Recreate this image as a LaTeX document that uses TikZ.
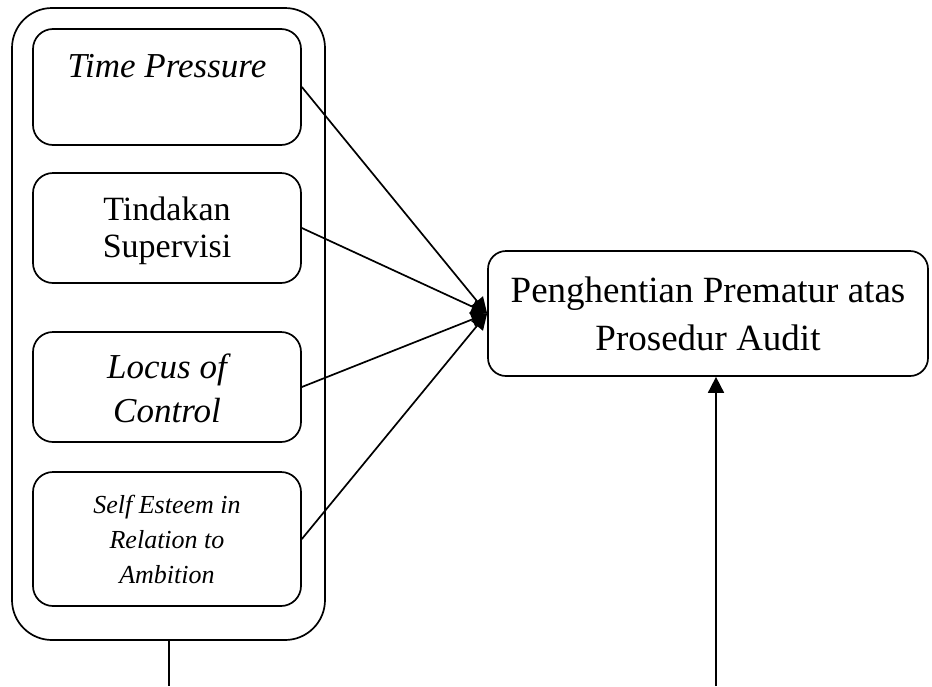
\documentclass[tikz,border=0pt]{standalone}
\usepackage{fontspec}
\setmainfont{Liberation Serif}
\usetikzlibrary{arrows.meta}
\begin{document}
\begin{tikzpicture}[x=1pt,y=-1pt,
  boxline/.style={draw=black,line width=1.7pt},
  inbox/.style={boxline,rounded corners=20pt},
  big/.style={font=\fontsize{34}{40}\selectfont,anchor=base,inner sep=0pt},
  bigit/.style={font=\fontsize{35}{40}\selectfont\itshape,anchor=base,inner sep=0pt},
  small/.style={font=\fontsize{26}{30}\selectfont\itshape,anchor=base,inner sep=0pt},
  head/.style={font=\fontsize{37}{44}\selectfont,anchor=base,inner sep=0pt},
  conn/.style={line width=1.7pt,-{Triangle[length=16pt,width=15pt]}}]
\useasboundingbox (0,0) rectangle (932,686);
% outer group
\draw[boxline,rounded corners=40pt] (12,8) rectangle (325,640);
\coordinate (outbot) at (169,640);
% inner boxes
\node[inbox,minimum width=268pt,minimum height=116pt,inner sep=0pt] (b1) at (167,87) {};
\node[inbox,minimum width=268pt,minimum height=110pt,inner sep=0pt] (b2) at (167,228) {};
\node[inbox,minimum width=268pt,minimum height=110pt,inner sep=0pt] (b3) at (167,387) {};
\node[inbox,minimum width=268pt,minimum height=134pt,inner sep=0pt] (b4) at (167,539) {};
\node[boxline,rounded corners=18pt,minimum width=440pt,minimum height=125pt,inner sep=0pt] (r) at (708,313.5) {};
% texts
\node[bigit] (t1) at (167,77) {Time Pressure};
\node[big] (t2a) at (167,220) {Tindakan};
\node[big] (t2b) at (167,257) {Supervisi};
\node[bigit] (t3a) at (167,378) {Locus of};
\node[bigit] (t3b) at (167,422) {Control};
\node[small] (t4a) at (167,513) {Self Esteem in};
\node[small] (t4b) at (167,548) {Relation to};
\node[small] (t4c) at (167,583) {Ambition};
\node[head] (h1) at (708,302) {Penghentian Prematur atas};
\node[head] (h2) at (708,350) {Prosedur Audit};
% connectors
\draw[conn] (b1.east) -- (r.west);
\draw[conn] (b2.east) -- (r.west);
\draw[conn] (b3.east) -- (r.west);
\draw[conn] (b4.east) -- (r.west);
\coordinate (lbot) at (169,686);
\coordinate (rbot) at (716,686);
\draw[line width=1.7pt] (outbot) -- (lbot);
\draw[line width=1.7pt,-{Triangle[length=16pt,width=16pt]}] (rbot) -- (r.south -| rbot);
\end{tikzpicture}
\end{document}
